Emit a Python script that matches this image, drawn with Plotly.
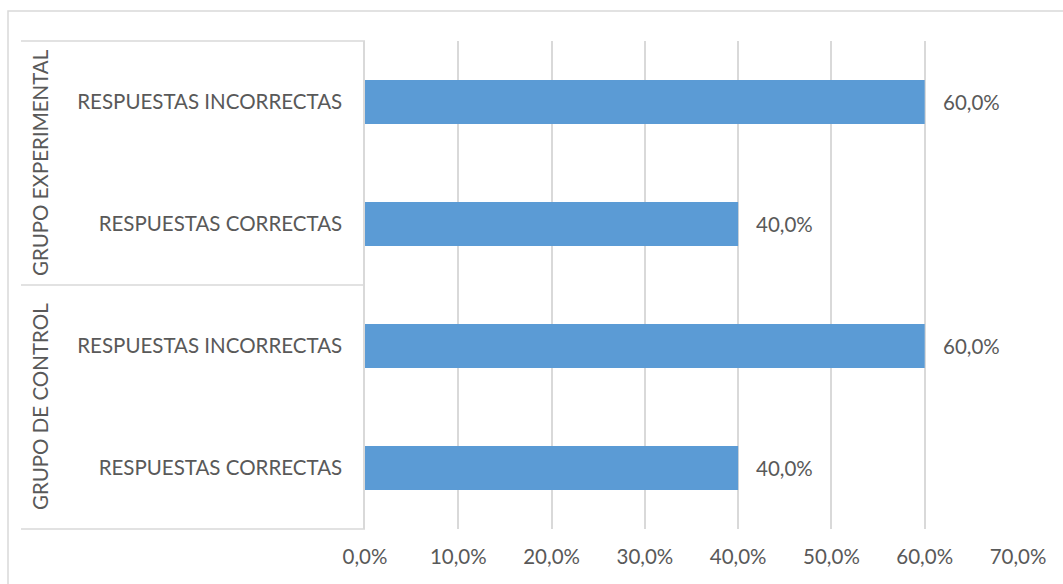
import plotly.graph_objects as go

groups = ["GRUPO DE CONTROL", "GRUPO EXPERIMENTAL"]
answers = ["RESPUESTAS CORRECTAS", "RESPUESTAS INCORRECTAS"]
control_values = [0.40, 0.60]
experimental_values = [0.40, 0.60]
x_ticks = [0.0, 0.1, 0.2, 0.3, 0.4, 0.5, 0.6, 0.7]

values = control_values + experimental_values
labels = answers + answers
positions = list(range(len(values)))

W, H = 1063, 584
x0, x1 = 365, 1018
ytop, ybot = 41, 529

TXT = "#595959"
GRID = "#d9d9d9"
FONT = "Lato"
FS = 20.5

fig = go.Figure()
fig.add_trace(go.Bar(
    x=values, y=positions, orientation="h",
    marker=dict(color="#5B9BD5", line=dict(width=0)),
    width=0.36, hoverinfo="skip",
))

for v, p in zip(values, positions):
    fig.add_annotation(x=v, y=p, xref="x", yref="y", text=f"{v*100:.1f}%".replace(".", ","),
                       showarrow=False, xanchor="left", xshift=16,
                       font=dict(size=FS, color=TXT, family=FONT))

# group labels (rotated)
for gi, g in enumerate(groups):
    fig.add_annotation(x=40 / W, y=gi * 2 + 0.5, xref="paper", yref="y", text=g,
                       showarrow=False, textangle=-90, xanchor="center", yanchor="middle",
                       font=dict(size=FS, color=TXT, family=FONT))

# category-axis separators
for yy in [ytop, 285, ybot]:
    fig.add_shape(type="line", xref="paper", yref="paper",
                  x0=21 / W, x1=x0 / W, y0=1 - yy / H, y1=1 - yy / H,
                  line=dict(color=GRID, width=1.5))
# outer chart border
fig.add_shape(type="rect", xref="paper", yref="paper",
              x0=8 / W, x1=1.02, y0=-0.02, y1=1 - 11 / H,
              line=dict(color=GRID, width=1.5))

fig.update_layout(
    width=W, height=H,
    margin=dict(l=0, r=0, t=0, b=0, autoexpand=False),
    paper_bgcolor="white", plot_bgcolor="white",
    separators=",.",
    showlegend=False,
    font=dict(family=FONT, size=FS, color=TXT),
    xaxis=dict(domain=[x0 / W, x1 / W], range=[0, 0.7], tickvals=x_ticks,
               tickformat=".1%", showgrid=True, gridcolor=GRID, gridwidth=1.5,
               zeroline=False, showline=False, ticks="", ticklabelstandoff=13,
               automargin=False,
               tickfont=dict(size=FS, color=TXT, family=FONT), fixedrange=True),
    yaxis=dict(domain=[1 - ybot / H, 1 - ytop / H], range=[-0.5, 3.5],
               tickvals=positions, ticktext=labels, showgrid=False, zeroline=False,
               showline=True, linecolor=GRID, linewidth=1.5, ticks="",
               ticklabelstandoff=17, automargin=False,
               tickfont=dict(size=FS, color=TXT, family=FONT), fixedrange=True),
)

fig.write_html("out.html", config={"displayModeBar": False},
               post_script="document.body.style.margin='0';document.body.style.overflow='hidden';")
